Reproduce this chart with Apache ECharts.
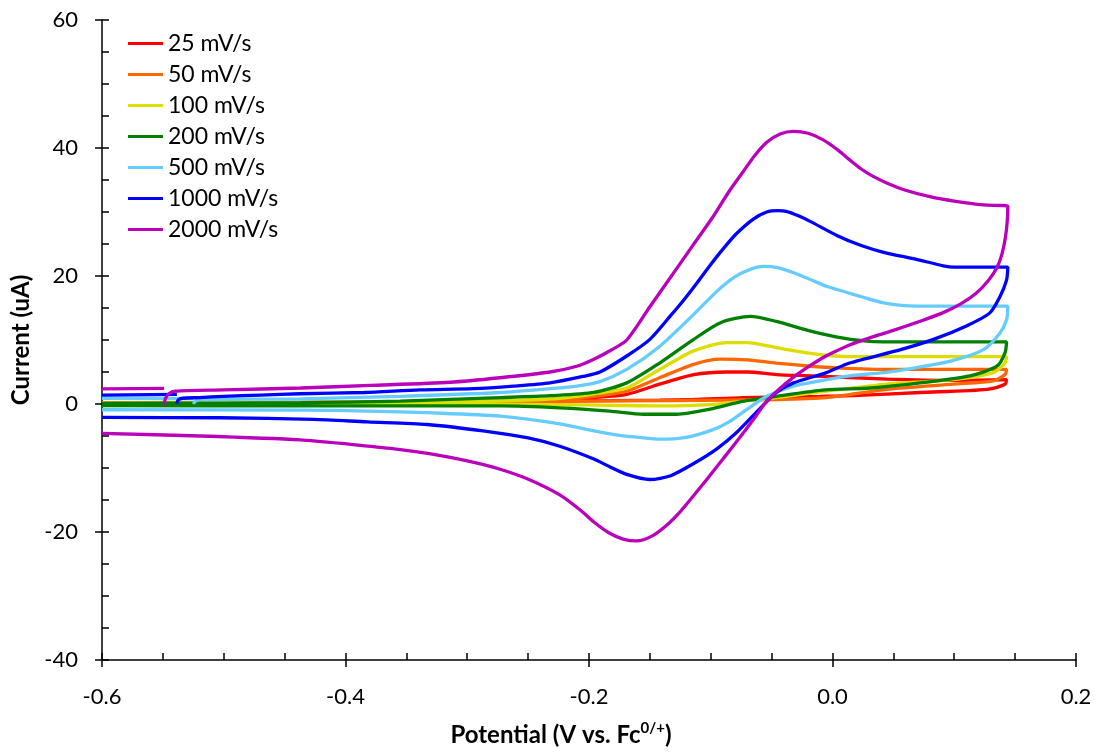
<!DOCTYPE html>
<html><head><meta charset="utf-8">
<script src="https://cdn.jsdelivr.net/npm/echarts@6/dist/echarts.min.js"></script>
<style>html,body{margin:0;padding:0;background:#fff}#c{width:1097px;height:752px}</style>
</head><body><div id="c"></div>
<script>
// ---- data (potential V vs Fc, current uA) ----
const seriesNames = ['25 mV/s','50 mV/s','100 mV/s','200 mV/s','500 mV/s','1000 mV/s','2000 mV/s'];
const seriesColors = ['#ff0000','#ff6600','#dddd00','#008000','#66ccff','#0000ff','#bb00bb'];
const xTicks = { min: -0.6, max: 0.2, step: 0.2 };
const yTicks = { min: -40, max: 60, step: 20 };

const cv25 = [
 [-0.600,0.15],[-0.437,0.2],[-0.355,0.3],[-0.273,0.45],[-0.224,0.7],[-0.196,1.0],[-0.169,1.5],[-0.142,3.1],[-0.114,4.6],[-0.087,5.0],[-0.070,5.0],[-0.046,4.6],[-0.018,4.4],[0.045,3.9],[0.099,3.7],[0.143,3.8],
 [0.1417,3.1],[0.127,2.3],[0.072,1.8],[0.017,1.3],[-0.010,1.2],[-0.073,1.0],[-0.114,0.7],[-0.142,0.6],[-0.224,0.45],[-0.355,0.3],[-0.600,0.15]
];
const cv50 = [
 [-0.600,0.2],[-0.437,0.25],[-0.355,0.35],[-0.273,0.5],[-0.224,0.8],[-0.196,1.2],[-0.169,2.0],[-0.142,4.1],[-0.114,6.2],[-0.092,7.0],[-0.070,6.9],[-0.046,6.4],[-0.018,5.9],[-0.002,5.7],[0.045,5.4],[0.143,5.4],
 [0.1417,4.6],[0.132,3.6],[0.099,3.1],[0.045,2.3],[-0.005,1.0],[-0.046,0.7],[-0.128,0.55],[-0.224,0.45],[-0.355,0.3],[-0.600,0.2]
];
const cv100 = [
 [-0.600,0.15],[-0.437,0.2],[-0.355,0.3],[-0.273,0.5],[-0.224,0.9],[-0.196,1.6],[-0.169,2.5],[-0.142,5.4],[-0.114,8.3],[-0.087,9.6],[-0.070,9.6],[-0.046,8.8],[-0.018,7.9],[0.002,7.5],[0.017,7.4],[0.072,7.4],[0.143,7.4],
 [0.1417,6.4],[0.132,4.9],[0.099,3.8],[0.045,3.1],[-0.005,2.0],[-0.046,1.0],[-0.073,0.45],[-0.100,-0.1],[-0.142,-0.3],[-0.183,-0.2],[-0.224,-0.1],[-0.355,0.0],[-0.600,0.0]
];
const cv200 = [
 [-0.600,0.1],[-0.500,0.15],[-0.437,0.2],[-0.355,0.45],[-0.273,1.0],[-0.232,1.3],[-0.196,1.8],[-0.169,3.3],[-0.142,6.4],[-0.114,10.1],[-0.092,12.7],[-0.0675,13.7],[-0.046,12.9],[-0.018,11.4],[0.009,10.3],[0.031,9.8],[0.072,9.7],[0.143,9.7],
 [0.1417,8.0],[0.135,5.9],[0.113,4.4],[0.072,3.3],[0.031,2.5],[-0.006,2.2],[-0.046,1.2],[-0.073,0.45],[-0.1005,-0.8],[-0.128,-1.6],[-0.155,-1.6],[-0.183,-1.1],[-0.224,-0.6],[-0.273,-0.3],[-0.437,-0.3],[-0.600,-0.25]
];
const cv500 = [
 [-0.525,0.0],[-0.523,0.5],[-0.519,0.7],[-0.480,0.75],[-0.437,0.8],[-0.355,1.2],[-0.273,1.8],[-0.232,2.4],[-0.210,2.8],[-0.191,3.5],[-0.169,5.4],[-0.142,9.0],[-0.114,14.0],[-0.095,17.6],[-0.080,19.9],[-0.068,21.0],[-0.057,21.5],[-0.045,21.3],[-0.032,20.5],[-0.015,19.2],[-0.005,18.4],[0.023,16.8],[0.042,15.8],[0.069,15.3],[0.144,15.3],
 [0.143,13.2],[0.1376,11.1],[0.124,8.5],[0.097,6.7],[0.069,5.7],[0.042,4.9],[0.014,4.4],[-0.005,3.8],[-0.032,2.8],[-0.054,1.2],[-0.070,-0.8],[-0.085,-2.8],[-0.098,-4.0],[-0.120,-5.2],[-0.142,-5.5],[-0.155,-5.3],[-0.175,-4.9],[-0.196,-4.2],[-0.224,-3.1],[-0.273,-1.9],[-0.328,-1.4],[-0.382,-1.1],[-0.437,-0.95],[-0.600,-0.9],
 [null,null],
 [-0.600,0.9],[-0.525,0.85]
];
const cv1000 = [
 [-0.5385,0.05],[-0.5375,0.6],[-0.534,0.9],[-0.520,1.0],[-0.500,1.2],[-0.470,1.4],[-0.437,1.6],[-0.385,1.8],[-0.339,2.2],[-0.295,2.4],[-0.262,2.8],[-0.232,3.3],[-0.205,4.3],[-0.191,5.0],[-0.169,7.5],[-0.150,10.1],[-0.133,13.8],[-0.122,16.3],[-0.111,19.0],[-0.100,21.8],[-0.090,24.2],[-0.079,26.6],[-0.065,28.9],[-0.054,30.0],[-0.045,30.2],[-0.038,30.1],[-0.028,29.4],[-0.018,28.5],[0.004,26.3],[0.023,24.8],[0.042,23.7],[0.069,22.6],[0.091,21.6],[0.100,21.4],[0.144,21.4],
 [0.143,19.4],[0.1376,16.8],[0.129,14.2],[0.110,12.2],[0.083,10.1],[0.056,8.5],[0.014,6.4],[-0.005,4.9],[-0.032,3.3],[-0.046,1.8],[-0.060,-0.8],[-0.079,-4.5],[-0.095,-7.0],[-0.114,-9.3],[-0.133,-11.2],[-0.150,-11.8],[-0.169,-11.0],[-0.183,-9.8],[-0.196,-8.6],[-0.224,-6.6],[-0.250,-5.3],[-0.287,-4.2],[-0.333,-3.2],[-0.382,-2.8],[-0.426,-2.4],[-0.503,-2.15],[-0.600,-2.1],
 [null,null],
 [-0.600,1.4],[-0.5385,1.5]
];
const cv2000 = [
 [-0.549,-0.2],[-0.548,0.8],[-0.545,1.6],[-0.540,2.0],[-0.500,2.2],[-0.437,2.5],[-0.380,2.9],[-0.314,3.4],[-0.273,4.1],[-0.232,5.0],[-0.210,5.9],[-0.196,7.0],[-0.182,8.4],[-0.169,10.0],[-0.150,15.2],[-0.133,19.8],[-0.115,24.7],[-0.098,29.3],[-0.085,33.2],[-0.073,36.4],[-0.064,38.8],[-0.054,40.9],[-0.043,42.2],[-0.032,42.6],[-0.020,42.3],[-0.008,41.3],[0.005,39.6],[0.015,38.0],[0.023,36.8],[0.033,35.6],[0.045,34.5],[0.060,33.4],[0.080,32.4],[0.100,31.7],[0.124,31.1],[0.144,30.9],
 [0.1435,28.5],[0.142,26.0],[0.139,23.3],[0.135,21.3],[0.128,19.3],[0.118,17.3],[0.105,15.6],[0.090,14.2],[0.070,12.8],[0.050,11.5],[0.030,10.3],[0.015,9.3],[0.000,8.0],[-0.010,7.0],[-0.020,5.8],[-0.032,4.2],[-0.045,2.1],[-0.055,0.2],[-0.063,-1.9],[-0.076,-5.2],[-0.090,-8.6],[-0.102,-11.5],[-0.114,-14.3],[-0.125,-16.8],[-0.136,-18.9],[-0.148,-20.6],[-0.161,-21.4],[-0.172,-21.1],[-0.183,-20.2],[-0.195,-18.6],[-0.207,-16.6],[-0.224,-14.2],[-0.248,-11.9],[-0.273,-10.2],[-0.300,-8.9],[-0.330,-7.8],[-0.360,-7.0],[-0.396,-6.3],[-0.437,-5.6],[-0.519,-5.0],[-0.600,-4.6],
 [null,null],
 [-0.600,2.35],[-0.549,2.45]
];
const cvData = [cv25, cv50, cv100, cv200, cv500, cv1000, cv2000];

// ---- chart ----
const FONT = 'Lato';
const BLACK = '#000';
const lineSty = { color: BLACK, width: 1.5 };
const chart = echarts.init(document.getElementById('c'), null, { renderer: 'canvas' });

function baseX(extra) {
  return Object.assign({
    type: 'value', min: xTicks.min, max: xTicks.max, interval: xTicks.step, position: 'bottom',
    splitLine: { show: false }
  }, extra);
}
function baseY(extra) {
  return Object.assign({
    type: 'value', min: yTicks.min, max: yTicks.max, interval: yTicks.step, position: 'left',
    splitLine: { show: false }
  }, extra);
}

chart.setOption({
  animation: false,
  backgroundColor: '#fff',
  grid: { left: 102, right: 21, top: 20, bottom: 91, containLabel: false },
  legend: {
    orient: 'vertical', left: 123, top: 27,
    icon: 'rect', itemWidth: 35, itemHeight: 3, itemGap: 8, padding: 5,
    data: seriesNames,
    textStyle: { fontSize: 23, fontFamily: FONT, color: BLACK, lineHeight: 22 }
  },
  xAxis: [
    baseX({
      axisLine: { onZero: false, lineStyle: lineSty },
      axisTick: { inside: true, length: 7, lineStyle: lineSty },
      minorTick: { show: true, splitNumber: 4, length: 7, lineStyle: lineSty },
      axisLabel: { margin: 26, fontSize: 22, fontFamily: FONT, color: BLACK, formatter: v => v.toFixed(1) },
      name: '{a|Potential (V vs. Fc}{s|0/+}{a|)}',
      nameLocation: 'middle', nameGap: 61,
      nameTextStyle: {
        padding: [0, 56, 0, 0],
        rich: {
          a: { fontSize: 24, fontWeight: 'bold', fontFamily: FONT, color: BLACK, lineHeight: 28 },
          s: { fontSize: 15, fontWeight: 'bold', fontFamily: FONT, color: BLACK, verticalAlign: 'top', lineHeight: 28, padding: [0, 0, 10, 0] }
        }
      }
    }),
    baseX({
      axisLine: { show: false, onZero: false },
      axisTick: { inside: false, length: 7, lineStyle: lineSty },
      axisLabel: { show: false }
    })
  ],
  yAxis: [
    baseY({
      axisLine: { onZero: false, lineStyle: lineSty },
      axisTick: { inside: true, length: 7, lineStyle: lineSty },
      minorTick: { show: true, splitNumber: 4, length: 7, lineStyle: lineSty },
      axisLabel: { margin: 24, fontSize: 22, fontFamily: FONT, color: BLACK },
      name: 'Current (uA)', nameLocation: 'middle', nameGap: 60,
      nameTextStyle: { fontSize: 24, fontWeight: 'bold', fontFamily: FONT, color: BLACK }
    }),
    baseY({
      axisLine: { show: false, onZero: false },
      axisTick: { inside: false, length: 7, lineStyle: lineSty },
      axisLabel: { show: false }
    })
  ],
  series: cvData.map((d, i) => ({
    name: seriesNames[i], type: 'line', data: d,
    xAxisIndex: 0, yAxisIndex: 0,
    symbol: 'none', showSymbol: false, smooth: 0.25, connectNulls: false,
    lineStyle: { width: 3.3, color: seriesColors[i] },
    itemStyle: { color: seriesColors[i] }
  }))
});
</script>
</body></html>
